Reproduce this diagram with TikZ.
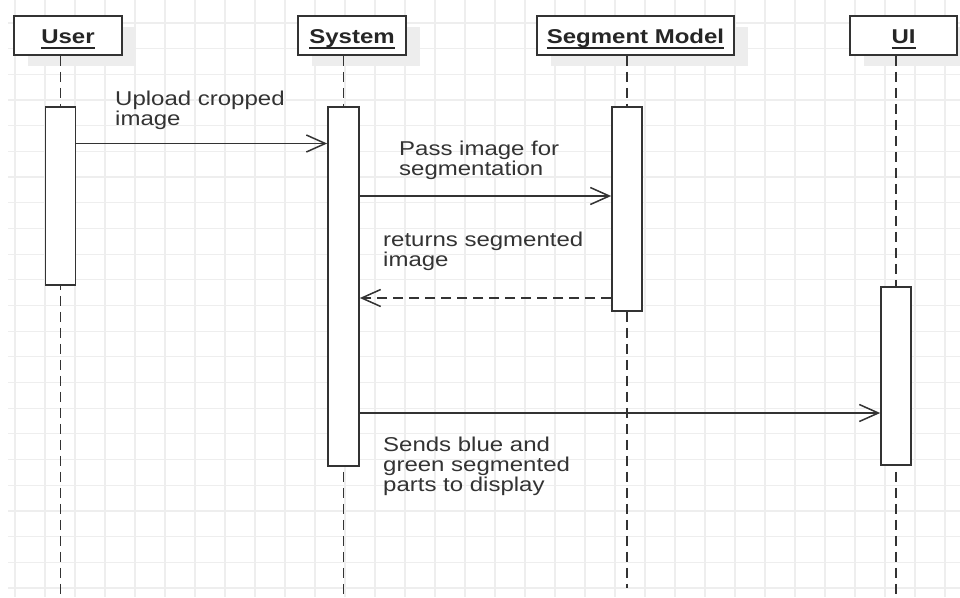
\documentclass[tikz,border=0pt]{standalone}
\usepackage{fontspec}
\setmainfont{Liberation Sans}
\usetikzlibrary{arrows.meta,shadows}
\definecolor{ink}{HTML}{333333}
\definecolor{gridc}{HTML}{EEEEEE}
\definecolor{shade}{HTML}{EDEDED}
% text is set slightly wider than the font's natural width
\newcommand\widen[1]{\scalebox{1.2}[1]{#1}}
\newcommand\lbl[1]{\widen{\begin{tabular}[t]{@{}l@{}}#1\end{tabular}}}
\newcommand\ulhead[1]{\widen{\setbox0\hbox{\bfseries #1}\rlap{\rule[-5.7pt]{\wd0}{2pt}}\box0}}
\begin{document}
\begin{tikzpicture}[x=1pt,y=-1pt,
  font=\fontsize{20}{20}\selectfont, text=ink,
  gridline/.style={draw=gridc, line width=1.2pt},
  hdr/.style={draw=ink, line width=1.7pt, fill=white, minimum width=#1,
    minimum height=39pt, inner sep=0pt, text height=15pt, text depth=0pt,
    text=black!85,
    drop shadow={shadow xshift=14pt, shadow yshift=-11pt, fill=shade, draw=none, opacity=1}},
  act/.style={draw=ink, line width=1.7pt, fill=white, minimum width=30pt,
    anchor=north, inner sep=0pt},
  life/.style={draw=ink, line width=1.9pt, dash pattern=on 10pt off 6pt},
  msg/.style={draw=ink, line width=1.5pt,
    -{Straight Barb[length=19pt,width=17pt,line width=1.5pt]}},
  reply/.style={msg, dash pattern=on 10pt off 6pt},
  lab/.style={anchor=base west, inner sep=0pt}]

\useasboundingbox (0,0) rectangle (960,597);
\fill[white] (0,0) rectangle (960,597);

% background grid
\foreach \k in {0,...,31} \draw[gridline] (15+30*\k,0) -- (15+30*\k,597);
\foreach \k in {0,...,22} \draw[gridline] (8,23+25.68*\k) -- (960,23+25.68*\k);

% participants
\node[hdr=108pt] (uh) at (68,35.5)    {\ulhead{User}};
\node[hdr=108pt] (sh) at (352,35.5)   {\ulhead{System}};
\node[hdr=197pt] (mh) at (635.5,35.5) {\ulhead{Segment Model}};
\node[hdr=107pt] (ih) at (903.5,35.5) {\ulhead{UI}};

% activation bars (placed first so the lifelines can refer to them)
\path
  node[act, minimum height=178pt] (ua) at (60.5,106) {}
  node[act, minimum height=359pt, minimum width=31pt] (sa) at (343.5,106) {}
  node[act, minimum height=204pt] (ma) at (627,106) {}
  node[act, minimum height=178pt] (ia) at (896,286) {};

% lifelines
\draw[life] (ua.north |- uh.south) -- (ua.north |- 0,597);
\draw[life] (sa.north |- sh.south) -- (sa.north |- 0,597);
\draw[life] (ma.north |- mh.south) -- (ma.north |- 0,588);
\draw[life] (ia.north |- ih.south) -- (ia.north |- 0,597);

% redraw the bars over their lifelines
\node[act, minimum height=178pt] at (ua.north) {};
\node[act, minimum height=359pt, minimum width=31pt] at (sa.north) {};
\node[act, minimum height=204pt] at (ma.north) {};
\node[act, minimum height=178pt] at (ia.north) {};

% messages
\draw[msg]   (ua.east |- 0,143.5) -- (sa.west |- 0,143.5);
\draw[msg]   (sa.east |- 0,196) -- (ma.west |- 0,196);
\draw[reply] (ma.west |- 0,298) -- (sa.east |- 0,298);
\draw[msg]   (sa.east |- 0,413) -- (ia.west |- 0,413);

% message labels
\node[lab] (l1) at (115,105)   {\lbl{Upload cropped\\image}};
\node[lab] (l2) at (399,155.5) {\lbl{Pass image for\\segmentation}};
\node[lab] (l3) at (383,246)   {\lbl{returns segmented\\image}};
\node[lab] (l4) at (383,451)   {\lbl{Sends blue and\\green segmented\\parts to display}};
\end{tikzpicture}
\end{document}
